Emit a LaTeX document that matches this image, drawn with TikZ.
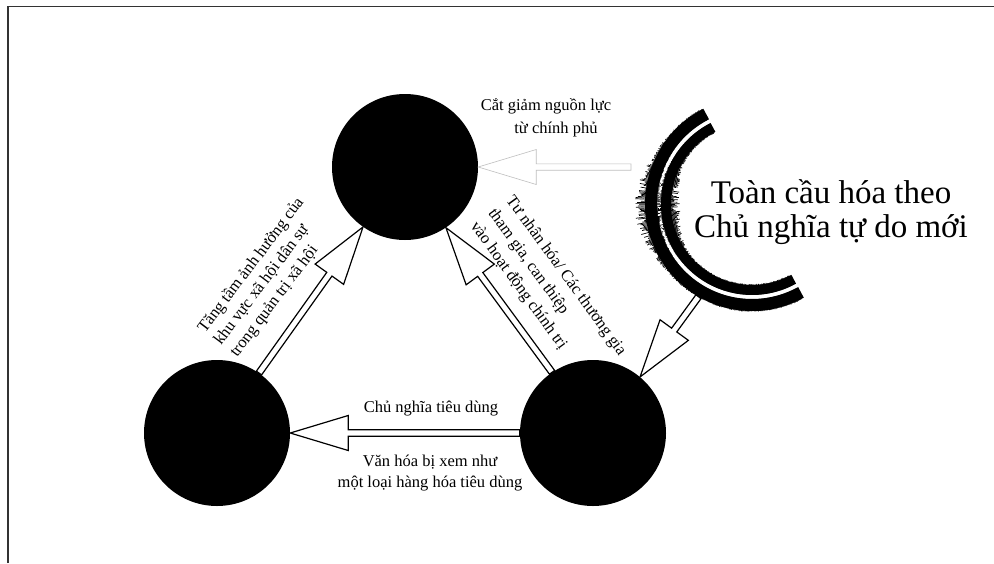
\documentclass[tikz,border=0pt]{standalone}
\usepackage{fontspec}
\setmainfont{Liberation Serif}
\usetikzlibrary{calc}
\tikzset{
  ball/.style={circle, fill=black, draw=none, minimum size=146pt, inner sep=0pt},
  arrowline/.style={draw=black, line width=1.2pt, fill=white, line join=miter},
  greyarrow/.style={draw=black!25, line width=0.6pt, fill=white, line join=miter},
  lbl/.style={font=\fontsize{16.5}{20}\selectfont, inner sep=0pt},
  biglbl/.style={font=\fontsize{33}{34}\selectfont, inner sep=0pt, align=center},
  band/.style={line width=#1, draw=black, line cap=butt},
  hair/.style={line width=0.7pt, draw=black},
  frameline/.style={line width=1.6pt, draw=black!80},
}
\newcommand\barrow[3][arrowline]{%
  \coordinate (ba-s) at (#2);
  \coordinate (ba-t) at (#3);
  \coordinate (ba-h) at ($(ba-t)!58pt!(ba-s)$);
  \path[#1] ($(ba-s)!3.2pt!90:(ba-t)$) -- ($(ba-h)!3.2pt!90:(ba-t)$)
    -- ($(ba-h)!17.5pt!90:(ba-t)$) -- (ba-t) -- ($(ba-h)!17.5pt!-90:(ba-t)$)
    -- ($(ba-h)!3.2pt!-90:(ba-t)$) -- ($(ba-s)!3.2pt!-90:(ba-t)$) -- cycle;
}
\begin{document}
\begin{tikzpicture}[x=1pt, y=-1pt]
\useasboundingbox (0,0) rectangle (994,563);
\fill[white] (0,0) rectangle (994,563);
% frame
\draw[frameline] (8,563) -- (8,6.5) -- (994,6.5);

% circles
\node[ball] (T) at (405,167) {};
\node[ball] (L) at (217,433) {};
\node[ball] (R) at (593,433) {};

% C shape centre and connector ends
\coordinate (Cc) at (752,204);
\coordinate (cA) at ($(Cc)+(240:107pt)$);
\coordinate (gS) at (631,167);

% arrows
\barrow{L.55}{T.235}
\barrow{R.124}{T.304}
\barrow{R.west}{L.east}
\barrow{cA}{R.50}
\barrow[greyarrow]{gS}{T.east}

% C shape
\draw[band=12pt] (Cc) ++(117:101pt) arc[start angle=117, end angle=299, radius=101pt];
\draw[band=10pt] (Cc) ++(117:86pt) arc[start angle=117, end angle=299, radius=86pt];
\pgfmathsetseed{12}
\foreach \a in {118,118.6,...,298}{
  \pgfmathsetmacro\w{exp(-((\a-182)/24)^2)}
  \pgfmathsetmacro\lo{0.5+(0.8+10*\w)*rnd}
  \pgfmathsetmacro\li{0.5+(1+8*\w)*rnd}
  \pgfmathsetmacro\go{0.3+3.2*\w*rnd}
  \pgfmathsetmacro\gi{0.3+3.2*\w*rnd}
  \draw[hair] (Cc) ++(\a:106.5pt) -- ++(\a:\lo pt);
  \draw[hair] (Cc) ++(\a:81.5pt) -- ++(\a:-\li pt);
  \draw[hair] (Cc) ++(\a:95.5pt) -- ++(\a:-\go pt);
  \draw[hair] (Cc) ++(\a:90.5pt) -- ++(\a:\gi pt);
}

% labels (base anchor = baseline of the last line)
\node[lbl, align=center, anchor=base, font=\fontsize{16.5}{23}\selectfont] (cut) at (546,133) {Cắt giảm nguồn lực\\\hspace*{20pt}từ chính phủ};
\node[lbl, anchor=base] (cons) at (431,412) {Chủ nghĩa tiêu dùng};
\node[lbl, align=center, anchor=base, font=\fontsize{16.5}{21}\selectfont] (cult) at (430,487) {Văn hóa bị xem như\\một loại hàng hóa tiêu dùng};
\node[lbl, align=left, anchor=base west, rotate=53, font=\fontsize{16.5}{20}\selectfont] (civ) at (237,358) {Tăng tầm ảnh hưởng của\\khu vực xã hội dân sự\\trong quản trị xã hội};
\node[lbl, align=left, anchor=base west, rotate=-54, font=\fontsize{16.5}{22}\selectfont] (priv) at (470,226) {Tư nhân hóa/ Các thương gia\\tham gia, can thiệp\\vào hoạt động chính trị};
\node[biglbl, anchor=base] (glob) at (831,237) {Toàn cầu hóa theo\\Chủ nghĩa tự do mới};
\end{tikzpicture}
\end{document}
